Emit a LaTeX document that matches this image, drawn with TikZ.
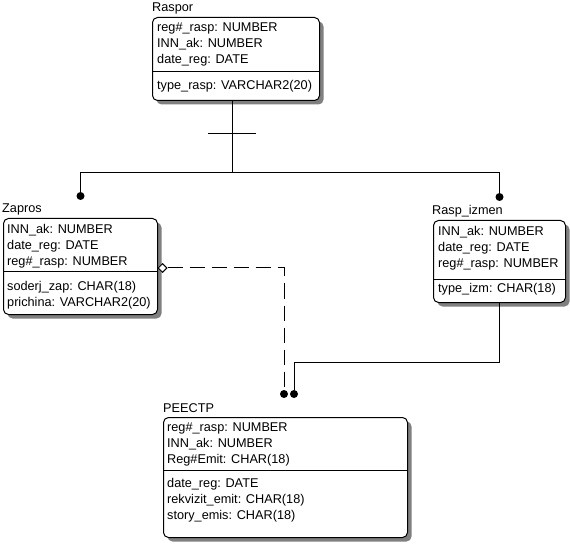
\documentclass[tikz,border=0pt]{standalone}
\usepackage{fontspec}
\setmainfont{Liberation Sans}
\usetikzlibrary{shadows,shapes.geometric}

\newcommand\erfont{\fontsize{12.7}{16}\selectfont}

\tikzset{
  entity/.style={draw, line width=1pt, rounded corners=5pt, fill=white,
    anchor=north west, inner sep=0pt,
    drop shadow={shadow xshift=4pt, shadow yshift=-4pt, fill=black!50, opacity=1}},
  attrs/.style={anchor=base west, inner sep=0pt, align=left, font=\erfont},
  title/.style={anchor=base west, inner sep=0pt, font=\erfont},
  link/.style={line width=1pt},
  keylink/.style={link, dash pattern=on 15pt off 7pt},
  dot/.style={circle, fill, inner sep=0pt, minimum size=8pt},
  nonid/.style={diamond, draw, fill=white, line width=1pt, inner sep=0pt,
    minimum width=9pt, minimum height=9pt}
}

\begin{document}
\begin{tikzpicture}[x=1pt,y=-1pt]
\useasboundingbox (0,0) rectangle (570,545);

% entities
\node[entity, minimum width=167pt, minimum height=83pt] (raspor) at (152,17) {};
\node[entity, minimum width=154pt, minimum height=96pt] (zapros) at (3,218) {};
\node[entity, minimum width=132pt, minimum height=82pt] (izmen) at (433,220) {};
\node[entity, minimum width=244pt, minimum height=120pt] (reestr) at (163,417) {};

% names
\node[title] (raspor-name) at ([shift={(0pt,5pt)}]raspor.north west) {Raspor};
\node[title] (zapros-name) at ([shift={(-1pt,5pt)}]zapros.north west) {Zapros};
\node[title] (izmen-name) at ([shift={(-1pt,5pt)}]izmen.north west) {Rasp\_izmen};
\node[title] (reestr-name) at ([shift={(0pt,5pt)}]reestr.north west) {PEECTP};

% Raspor (base = last line)
\node[attrs] (raspor-key) at ([shift={(5pt,-47pt)}]raspor.north west)
  {reg\#\_rasp: NUMBER\\INN\_ak: NUMBER\\date\_reg: DATE};
\draw[link] ([yshift=-55pt]raspor.north west) -- ([yshift=-55pt]raspor.north east);
\node[attrs] (raspor-attr) at ([shift={(5pt,-72.5pt)}]raspor.north west)
  {type\_rasp: VARCHAR2(20)};

% Zapros
\node[attrs] (zapros-key) at ([shift={(4pt,-47.5pt)}]zapros.north west)
  {INN\_ak: NUMBER\\date\_reg: DATE\\reg\#\_rasp: NUMBER};
\draw[link] ([yshift=-54pt]zapros.north west) -- ([yshift=-54pt]zapros.north east);
\node[attrs] (zapros-attr) at ([shift={(4pt,-88pt)}]zapros.north west)
  {soderj\_zap: CHAR(18)\\prichina: VARCHAR2(20)};

% Rasp_izmen
\node[attrs] (izmen-key) at ([shift={(5pt,-47.5pt)}]izmen.north west)
  {INN\_ak: NUMBER\\date\_reg: DATE\\reg\#\_rasp: NUMBER};
\draw[link] ([yshift=-60pt]izmen.north west) -- ([yshift=-60pt]izmen.north east);
\node[attrs] (izmen-attr) at ([shift={(5pt,-72pt)}]izmen.north west)
  {type\_izm: CHAR(18)};

% PEECTP
\node[attrs] (reestr-key) at ([shift={(4pt,-46.5pt)}]reestr.north west)
  {reg\#\_rasp: NUMBER\\INN\_ak: NUMBER\\Reg\#Emit: CHAR(18)};
\draw[link] ([yshift=-53pt]reestr.north west) -- ([yshift=-53pt]reestr.north east);
\node[attrs] (reestr-attr) at ([shift={(4pt,-102.5pt)}]reestr.north west)
  {date\_reg: DATE\\rekvizit\_emit: CHAR(18)\\story\_emis: CHAR(18)};

% relationships
\coordinate (rj) at (232,173);
\coordinate (rbar) at (232,134);
\node[dot] (zapros-dot) at (zapros.north |- 0,196) {};
\node[dot] (izmen-dot) at (izmen.north |- 0,197) {};
\node[dot] (reestr-dot1) at (284,394) {};
\node[dot] (reestr-dot2) at (294,394) {};
\node[nonid] (zapros-dia) at ([xshift=4.5pt]zapros.east |- 0,268) {};
\coordinate (ij) at (izmen.south |- 0,362);

\draw[link] (raspor.south -| rj) -- (rj);
\draw[link] ([xshift=-24pt]rbar) -- ([xshift=24pt]rbar);
\draw[link] (rj) -| (zapros-dot);
\draw[link] (rj) -| (izmen-dot);
\draw[keylink] (zapros-dia.east) -| (reestr-dot1);
\draw[link] (izmen.south) -- (ij) -| (reestr-dot2);

\end{tikzpicture}
\end{document}
